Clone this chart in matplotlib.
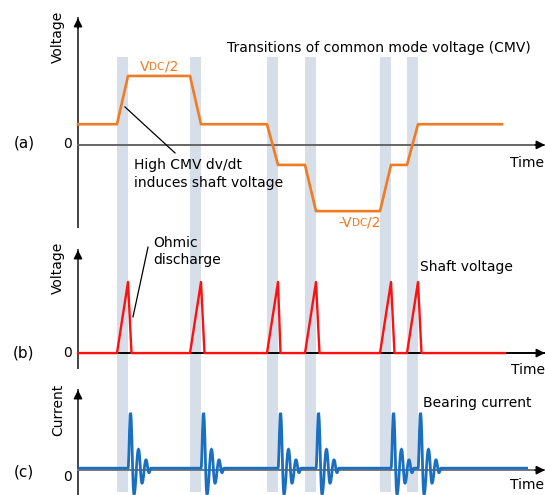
import numpy as np
import matplotlib
matplotlib.use("Agg")
import matplotlib.pyplot as plt
from matplotlib.path import Path
from matplotlib.patches import PathPatch

# Switching transitions (start, end) on the time axis
band_start = [39, 112, 189, 227, 302, 329]
band_end = [50, 123, 200, 238, 313, 340]

# Common mode voltage levels (units of Vdc/2) before / after each transition
cmv_levels = [0.30, 1.0, 0.30, -0.29, -0.96, -0.29, 0.30]
cmv_t_end = 424

# Shaft voltage: charges during each transition, then ohmic discharge
shaft_peak = [1.0, 1.0, 1.0, 1.0, 1.0, 1.0]
discharge_dt = [3.5, 3.5, 2.5, 3.5, 3.5, 3.5]
shaft_t_end = 427

# Bearing current ringing after each discharge (time offset, amplitude)
ring_dt = [0, 2.5, 6, 10.5, 14, 18, 21, 23]
ring_amp = [0, 1.0, -0.47, 0.34, -0.27, 0.15, -0.08, 0]
current_offset = 0.035
current_t_end = 450

T_MIN, T_MAX = -78, 467
H = 495.0

fig = plt.figure(figsize=(5.45, 4.95), dpi=100)

def frac(top, bottom):
    return [0, 1 - bottom / H, 1, (bottom - top) / H]

# shaded transition bands running through all three panels
ax_bg = fig.add_axes(frac(57, 492))
ax_bg.set_xlim(T_MIN, T_MAX)
ax_bg.set_ylim(0, 1)
ax_bg.axis("off")
for s, e in zip(band_start, band_end):
    ax_bg.axvspan(s, e, color="#d5dee9", lw=0)

ax_a = fig.add_axes(frac(18, 227))
ax_a.set_ylim(-1.19, 1.84)
ax_b = fig.add_axes(frac(250, 368))
ax_b.set_ylim(-0.21, 1.45)
ax_c = fig.add_axes(frac(390, 495))
ax_c.set_ylim(-0.45, 1.45)

fs = 10
for ax, hcol, zero_y in [(ax_a, "#666666", 0.01), (ax_b, "black", 0.0),
                         (ax_c, "#777777", -0.13)]:
    ax.set_xlim(T_MIN, T_MAX)
    ax.axis("off")
    ax.patch.set_alpha(0)
    y0, y1 = ax.get_ylim()
    # vertical axis with arrow
    ax.plot([0, 0], [y0, y1], color="#444444", lw=1.4, clip_on=False, zorder=2)
    ax.annotate("", xy=(0, y1), xytext=(0, y1 - (y1 - y0) * 0.05),
                arrowprops=dict(arrowstyle="-|>", color="black", lw=1,
                                mutation_scale=13, shrinkA=0, shrinkB=0),
                annotation_clip=False)
    # time axis with arrow
    ax.plot([0, T_MAX], [0, 0], color=hcol, lw=1.4, clip_on=False, zorder=2)
    ax.annotate("", xy=(T_MAX, 0), xytext=(T_MAX - 10, 0),
                arrowprops=dict(arrowstyle="-|>", color="black", lw=1,
                                mutation_scale=13, shrinkA=0, shrinkB=0),
                annotation_clip=False)
    ax.text(-6, zero_y, "0", ha="right", va="center", fontsize=fs)

# (a) common mode voltage
t_cmv = [0]
v_cmv = [cmv_levels[0]]
for i, (s, e) in enumerate(zip(band_start, band_end)):
    t_cmv += [s, e]
    v_cmv += [cmv_levels[i], cmv_levels[i + 1]]
t_cmv.append(cmv_t_end)
v_cmv.append(cmv_levels[-1])
ax_a.plot(t_cmv, v_cmv, color="#ef7b22", lw=1.9, zorder=3, clip_on=False)

ax_a.text(149, 1.41, "Transitions of common mode voltage (CMV)", fontsize=fs,
          va="center", ha="left")
v1 = ax_a.text(62, 1.13, "V", color="#ef7b22", fontsize=fs, va="center")
v2 = ax_a.annotate("DC", xy=(1, 0), xycoords=v1, va="bottom", color="#ef7b22",
                   fontsize=7.5, xytext=(0, 1.4), textcoords="offset points")
ax_a.annotate("/2", xy=(1, 0), xycoords=v2, va="bottom", color="#ef7b22",
              fontsize=fs, xytext=(0, -1.4), textcoords="offset points")
w1 = ax_a.text(260, -1.13, "-V", color="#ef7b22", fontsize=fs, va="center")
w2 = ax_a.annotate("DC", xy=(1, 0), xycoords=w1, va="bottom", color="#ef7b22",
                   fontsize=7.5, xytext=(0, 1.4), textcoords="offset points")
ax_a.annotate("/2", xy=(1, 0), xycoords=w2, va="bottom", color="#ef7b22",
              fontsize=fs, xytext=(0, -1.4), textcoords="offset points")
ax_a.plot([47, 97], [0.55, -0.116], color="black", lw=0.9, zorder=4)
ax_a.text(56, -0.42, "High CMV dv/dt\ninduces shaft voltage", fontsize=fs,
          va="center", ha="left", linespacing=1.35)
ax_a.text(432, -0.26, "Time", fontsize=fs, va="center", ha="left", clip_on=False)
ax_a.text(-20, 1.57, "Voltage", fontsize=fs, rotation=90, ha="center", va="center")
ax_a.text(-54, 0.03, "(a)", fontsize=11, ha="center", va="center")

# (b) shaft voltage
t_sh = [0]
v_sh = [0]
for s, e, pk, dd in zip(band_start, band_end, shaft_peak, discharge_dt):
    t_sh += [s, e, e + dd]
    v_sh += [0, pk, 0]
t_sh.append(shaft_t_end)
v_sh.append(0)
ax_b.plot(t_sh, v_sh, color="#ff1010", lw=1.7, zorder=3, clip_on=False)

ax_b.plot([55, 70], [0.51, 1.49], color="black", lw=0.9, zorder=4, clip_on=False)
ax_b.text(75, 1.43, "Ohmic\ndischarge", fontsize=fs, va="center", ha="left",
          linespacing=1.3)
ax_b.text(342, 1.21, "Shaft voltage", fontsize=fs, va="center", ha="left")
ax_b.text(433, -0.24, "Time", fontsize=fs, va="center", ha="left", clip_on=False)
ax_b.text(-20, 1.20, "Voltage", fontsize=fs, rotation=90, ha="center", va="center")
ax_b.text(-54, 0.0, "(b)", fontsize=11, ha="center", va="center")

# (c) bearing current: smooth ringing through the read extrema
verts = [(0, current_offset)]
codes = [Path.MOVETO]
for e in band_end:
    pts = [(e + d, current_offset + a) for d, a in zip(ring_dt, ring_amp)]
    verts.append(pts[0])
    codes.append(Path.LINETO)
    for (xa, ya), (xb, yb) in zip(pts[:-1], pts[1:]):
        dx = xb - xa
        verts += [(xa + 0.42 * dx, ya), (xb - 0.42 * dx, yb), (xb, yb)]
        codes += [Path.CURVE4] * 3
verts.append((current_t_end, current_offset))
codes.append(Path.LINETO)
ax_c.add_patch(PathPatch(Path(verts, codes), fc="none", ec="#1a6fc0", lw=2.0,
                         zorder=3, clip_on=False))

ax_c.text(345, 1.22, "Bearing current", fontsize=fs, va="center", ha="left")
ax_c.text(432, -0.27, "Time", fontsize=fs, va="center", ha="left", clip_on=False)
ax_c.text(-20, 1.09, "Current", fontsize=fs, rotation=90, ha="center", va="center")
ax_c.text(-54, -0.04, "(c)", fontsize=11, ha="center", va="center")

fig.savefig("out.png", dpi=100)
